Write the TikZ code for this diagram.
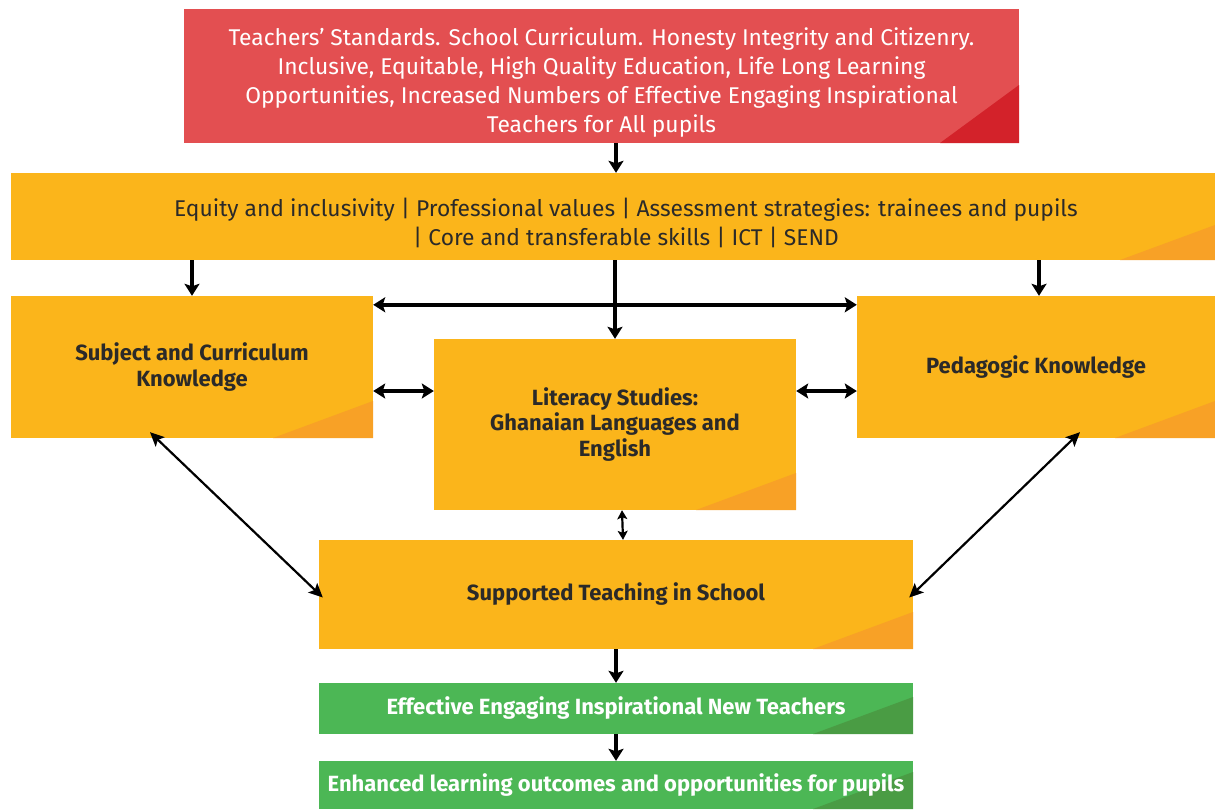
\documentclass[tikz,border=0pt]{standalone}
\usepackage{fontspec}
\setmainfont{Fira Sans}
\usetikzlibrary{arrows.meta}
\definecolor{tred}{HTML}{E34F51}
\definecolor{tdred}{HTML}{D3222A}
\definecolor{tyel}{HTML}{FBB51B}
\definecolor{tora}{HTML}{F8A126}
\definecolor{tgrn}{HTML}{4CB755}
\definecolor{tdgrn}{HTML}{4A9C44}
\definecolor{tink}{HTML}{2B2A29}
\tikzset{
  box/.style={inner sep=0pt, align=center, text=tink, font=\fontsize{22}{25.5}\selectfont\bfseries},
  corner/.style n args={3}{path picture={\fill[#1] (path picture bounding box.south east) -- ++(-#2,0) -- ++(#2,-#3) -- cycle;}},
  ybox/.style={box, fill=tyel, corner={tora}{100}{37}},
  gbox/.style={box, fill=tgrn, text=white, corner={tdgrn}{100}{37}},
  lines/.style={align=center, font=\fontsize{22.8}{29}\selectfont},
  arr/.style={line width=3.4pt, -{Stealth[length=12pt,width=15pt,inset=2.5pt]}},
  dbl/.style={line width=3.4pt, {Stealth[length=12pt,width=15pt,inset=2.5pt]}-{Stealth[length=12pt,width=15pt,inset=2.5pt]}},
  diag/.style={line width=2.2pt, {Stealth[length=14pt,width=13pt,inset=3pt]}-{Stealth[length=14pt,width=13pt,inset=3pt]}},
  small/.style={line width=2.2pt, {Stealth[length=9pt,width=10pt,inset=2pt]}-{Stealth[length=9pt,width=10pt,inset=2pt]}}
}
\begin{document}
\begin{tikzpicture}[x=1pt,y=-1pt]
  \useasboundingbox (0,0) rectangle (1215,809);
  % values and aims
  \node[box, fill=tred, corner={tdred}{79}{58}, minimum width=835, minimum height=134,
        label={[lines, text=white, yshift=-7pt]center:%
        Teachers’ Standards. School Curriculum. Honesty Integrity and Citizenry.\\
        Inclusive, Equitable, High Quality Education, Life Long Learning\\
        Opportunities, Increased Numbers of Effective Engaging Inspirational\\
        Teachers for All pupils}] (Top) at (601.5,76) {};
  % cross-cutting themes
  \node[ybox, corner={tora}{95}{35}, minimum width=1204, minimum height=87,
        label={[lines, text=tink, xshift=13pt, yshift=-6pt]center:%
        Equity and inclusivity | Professional values | Assessment strategies: trainees and pupils\\
        | Core and transferable skills | ICT | SEND}] (Bar) at (613,216.5) {};
  % knowledge boxes
  \node[ybox, minimum width=362, minimum height=142] (Subj) at (192,367)
    {Subject and Curriculum\\Knowledge};
  \node[ybox, minimum width=362, minimum height=171] (Lit) at (615,424.5)
    {Literacy Studies:\\Ghanaian Languages and\\English};
  \node[ybox, minimum width=358, minimum height=142] (Ped) at (1036,367)
    {Pedagogic Knowledge};
  \node[ybox, minimum width=594, minimum height=109] (Sts) at (616,594.5)
    {Supported Teaching in School};
  % outcomes
  \node[gbox, minimum width=594, minimum height=51] (Eng) at (616,708.5)
    {Effective Engaging Inspirational New Teachers};
  \node[gbox, minimum width=594, minimum height=48] (Out) at (616,785)
    {Enhanced learning outcomes and opportunities for pupils};
  % connectors
  \draw[arr] (Top.south -| Sts.north) -- (Bar.north -| Sts.north);
  \draw[arr] (Bar.south -| Subj.north) -- (Subj.north);
  \draw[arr] ([xshift=3pt]Bar.south -| Ped.north) -- ([xshift=3pt]Ped.north);
  \draw[arr] (Bar.south -| Lit.north) -- (Lit.north);
  \draw[dbl] ([yshift=-9pt]Subj.north east) -- ([yshift=-9pt]Ped.north west);
  \draw[dbl] (Subj.east |- 0,391) -- (Lit.west |- 0,391);
  \draw[dbl] (Lit.east |- 0,391) -- (Ped.west |- 0,391);
  \draw[small] ([xshift=7pt]Lit.south) -- ([xshift=7pt]Sts.north);
  \draw[diag] ([xshift=-42pt,yshift=6pt]Subj.south) -- ([xshift=4pt,yshift=-3pt]Sts.west);
  \draw[diag] ([xshift=44pt,yshift=6pt]Ped.south) -- ([xshift=-4pt,yshift=-3pt]Sts.east);
  \draw[arr] (Sts.south) -- (Eng.north);
  \draw[arr] (Eng.south) -- (Out.north);
\end{tikzpicture}
\end{document}
